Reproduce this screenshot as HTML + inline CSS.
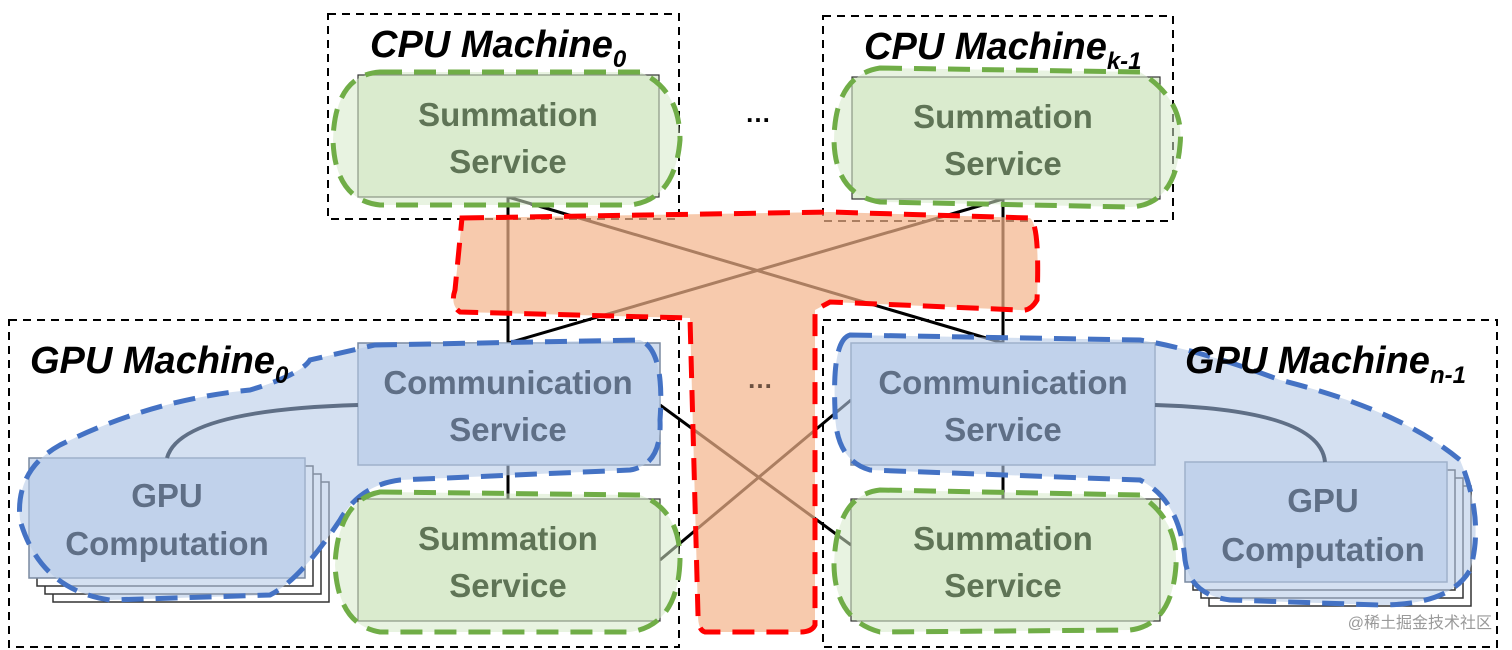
<!DOCTYPE html>
<html><head><meta charset="utf-8"><style>
html,body{margin:0;padding:0;background:#fff;}
svg{display:block}
.t{font-family:"Liberation Sans",sans-serif;font-weight:bold;font-size:33px;text-anchor:middle}
.g{fill:#5f7456}
.b{fill:#5f6f86}
.h{font-family:"Liberation Sans",sans-serif;font-weight:bold;font-style:italic;font-size:38px;fill:#000}
</style></head><body>
<svg width="1512" height="650" viewBox="0 0 1512 650" xmlns="http://www.w3.org/2000/svg">
<!-- machine boxes -->
<g fill="none" stroke="#000" stroke-width="2" stroke-dasharray="8,6">
<rect x="328" y="14" width="351" height="205"/>
<rect x="823" y="16" width="350" height="205"/>
<rect x="9" y="320" width="670" height="327"/>
<rect x="823" y="320" width="674" height="327"/>
</g>
<!-- connectors -->
<g stroke="#000" stroke-width="3" fill="none">
<line x1="508" y1="197" x2="508" y2="343"/>
<line x1="508" y1="197" x2="1003" y2="343"/>
<line x1="1003" y1="199" x2="508" y2="343"/>
<line x1="1003" y1="199" x2="1003" y2="343"/>
<line x1="660" y1="405" x2="851" y2="545"/>
<line x1="660" y1="560" x2="851" y2="400"/>
<line x1="508" y1="465" x2="508" y2="499"/>
<line x1="1003" y1="465" x2="1003" y2="499"/>
</g>
<!-- red T (translucent over lines) -->
<path d="M462,218 L830,212 L1030,218 Q1040,225 1037,300 Q1030,312 1020,310 L830,302 L815,310 L815,625 Q812,632 800,632 L705,632 Q698,630 698,615 L690,318 L460,312 Q450,305 455,290 Z" fill="#f4b48a" fill-opacity="0.7" stroke="#ff0000" stroke-width="5" stroke-dasharray="22,12"/>
<!-- GPU comp stacks -->
<g stroke="#333" stroke-width="1.5" fill="#fff">
<rect x="53" y="482" width="276" height="120"/>
<rect x="45" y="474" width="276" height="120"/>
<rect x="37" y="466" width="276" height="120"/>
<rect x="29" y="458" width="276" height="120" fill="#cfdcef" stroke="#7a8aa0"/>
<rect x="1209" y="486" width="262" height="120"/>
<rect x="1201" y="478" width="262" height="120"/>
<rect x="1193" y="470" width="262" height="120"/>
<rect x="1185" y="462" width="262" height="120" fill="#cfdcef" stroke="#7a8aa0"/>
</g>
<g fill="#cfdcef" stroke="#7a8aa0" stroke-width="1.5">
<rect x="358" y="343" width="302" height="122"/>
<rect x="851" y="343" width="304" height="122"/>
</g>
<!-- blue blobs -->
<path d="M375,345 L640,340 Q665,350 660,420 Q662,465 630,470 L400,480 Q360,485 340,520 Q300,580 270,595 L110,600 Q40,590 20,520 Q15,470 60,445 Q150,400 250,390 Q300,375 310,360 Z" fill="#b8cbe8" fill-opacity="0.6" stroke="#4472c4" stroke-width="5" stroke-dasharray="22,12"/>
<path d="M850,335 L1140,340 Q1200,350 1280,380 Q1400,410 1460,460 Q1485,520 1470,570 Q1450,605 1380,605 L1230,600 Q1190,595 1185,560 Q1180,500 1140,480 L870,470 Q835,460 835,410 Q832,340 850,335 Z" fill="#b8cbe8" fill-opacity="0.6" stroke="#4472c4" stroke-width="5" stroke-dasharray="22,12"/>
<path d="M358,405 Q180,410 167,458" fill="none" stroke="#5f6f86" stroke-width="4"/>
<path d="M1155,405 Q1320,410 1325,462" fill="none" stroke="#5f6f86" stroke-width="4"/>
<!-- green rects -->
<g fill="#e0eed6" stroke="#333" stroke-width="1.2">
<rect x="358" y="75" width="301" height="122"/>
<rect x="852" y="77" width="308" height="122"/>
<rect x="358" y="499" width="302" height="122"/>
<rect x="851" y="499" width="309" height="122"/>
</g>
<!-- green blobs -->
<g fill="#d6e9c8" fill-opacity="0.55" stroke="#70ad47" stroke-width="5" stroke-dasharray="22,12">
<path d="M380,72 L640,72 Q680,90 680,140 Q675,200 630,205 L380,205 Q335,200 333,140 Q335,75 380,72 Z"/>
<path d="M880,68 L1140,72 Q1185,100 1180,145 Q1175,205 1130,207 L880,202 Q835,195 834,140 Q835,75 880,68 Z"/>
<path d="M380,492 L640,495 Q680,510 680,560 Q678,625 630,632 L380,632 Q338,625 335,565 Q338,500 380,492 Z"/>
<path d="M880,490 L1140,495 Q1178,520 1176,565 Q1172,625 1130,630 L880,632 Q835,620 834,565 Q836,495 880,490 Z"/>
</g>
<!-- text -->
<text class="t g" x="508" y="126">Summation</text>
<text class="t g" x="508" y="173">Service</text>
<text class="t g" x="1003" y="128">Summation</text>
<text class="t g" x="1003" y="175">Service</text>
<text class="t g" x="508" y="550">Summation</text>
<text class="t g" x="508" y="597">Service</text>
<text class="t g" x="1003" y="550">Summation</text>
<text class="t g" x="1003" y="597">Service</text>
<text class="t b" x="508" y="394">Communication</text>
<text class="t b" x="508" y="441">Service</text>
<text class="t b" x="1003" y="394">Communication</text>
<text class="t b" x="1003" y="441">Service</text>
<text class="t b" x="167" y="507">GPU</text>
<text class="t b" x="167" y="555">Computation</text>
<text class="t b" x="1323" y="512">GPU</text>
<text class="t b" x="1323" y="561">Computation</text>
<text class="h" x="370" y="57">CPU Machine<tspan font-size="24" dy="10">0</tspan></text>
<text class="h" x="864" y="59">CPU Machine<tspan font-size="24" dy="10">k-1</tspan></text>
<text class="h" x="30" y="373">GPU Machine<tspan font-size="24" dy="10">0</tspan></text>
<text class="h" x="1185" y="373">GPU Machine<tspan font-size="24" dy="10">n-1</tspan></text>
<text x="758" y="122" font-family="Liberation Sans,sans-serif" font-weight="bold" font-size="26" text-anchor="middle">…</text>
<text x="760" y="388" font-family="Liberation Sans,sans-serif" font-weight="bold" font-size="26" text-anchor="middle" fill="#6b5040">…</text>
<text x="1492" y="628" font-family="Liberation Sans,'Noto Sans CJK SC',sans-serif" font-size="16" fill="#999" text-anchor="end">@稀土掘金技术社区</text>
</svg>
</body></html>
